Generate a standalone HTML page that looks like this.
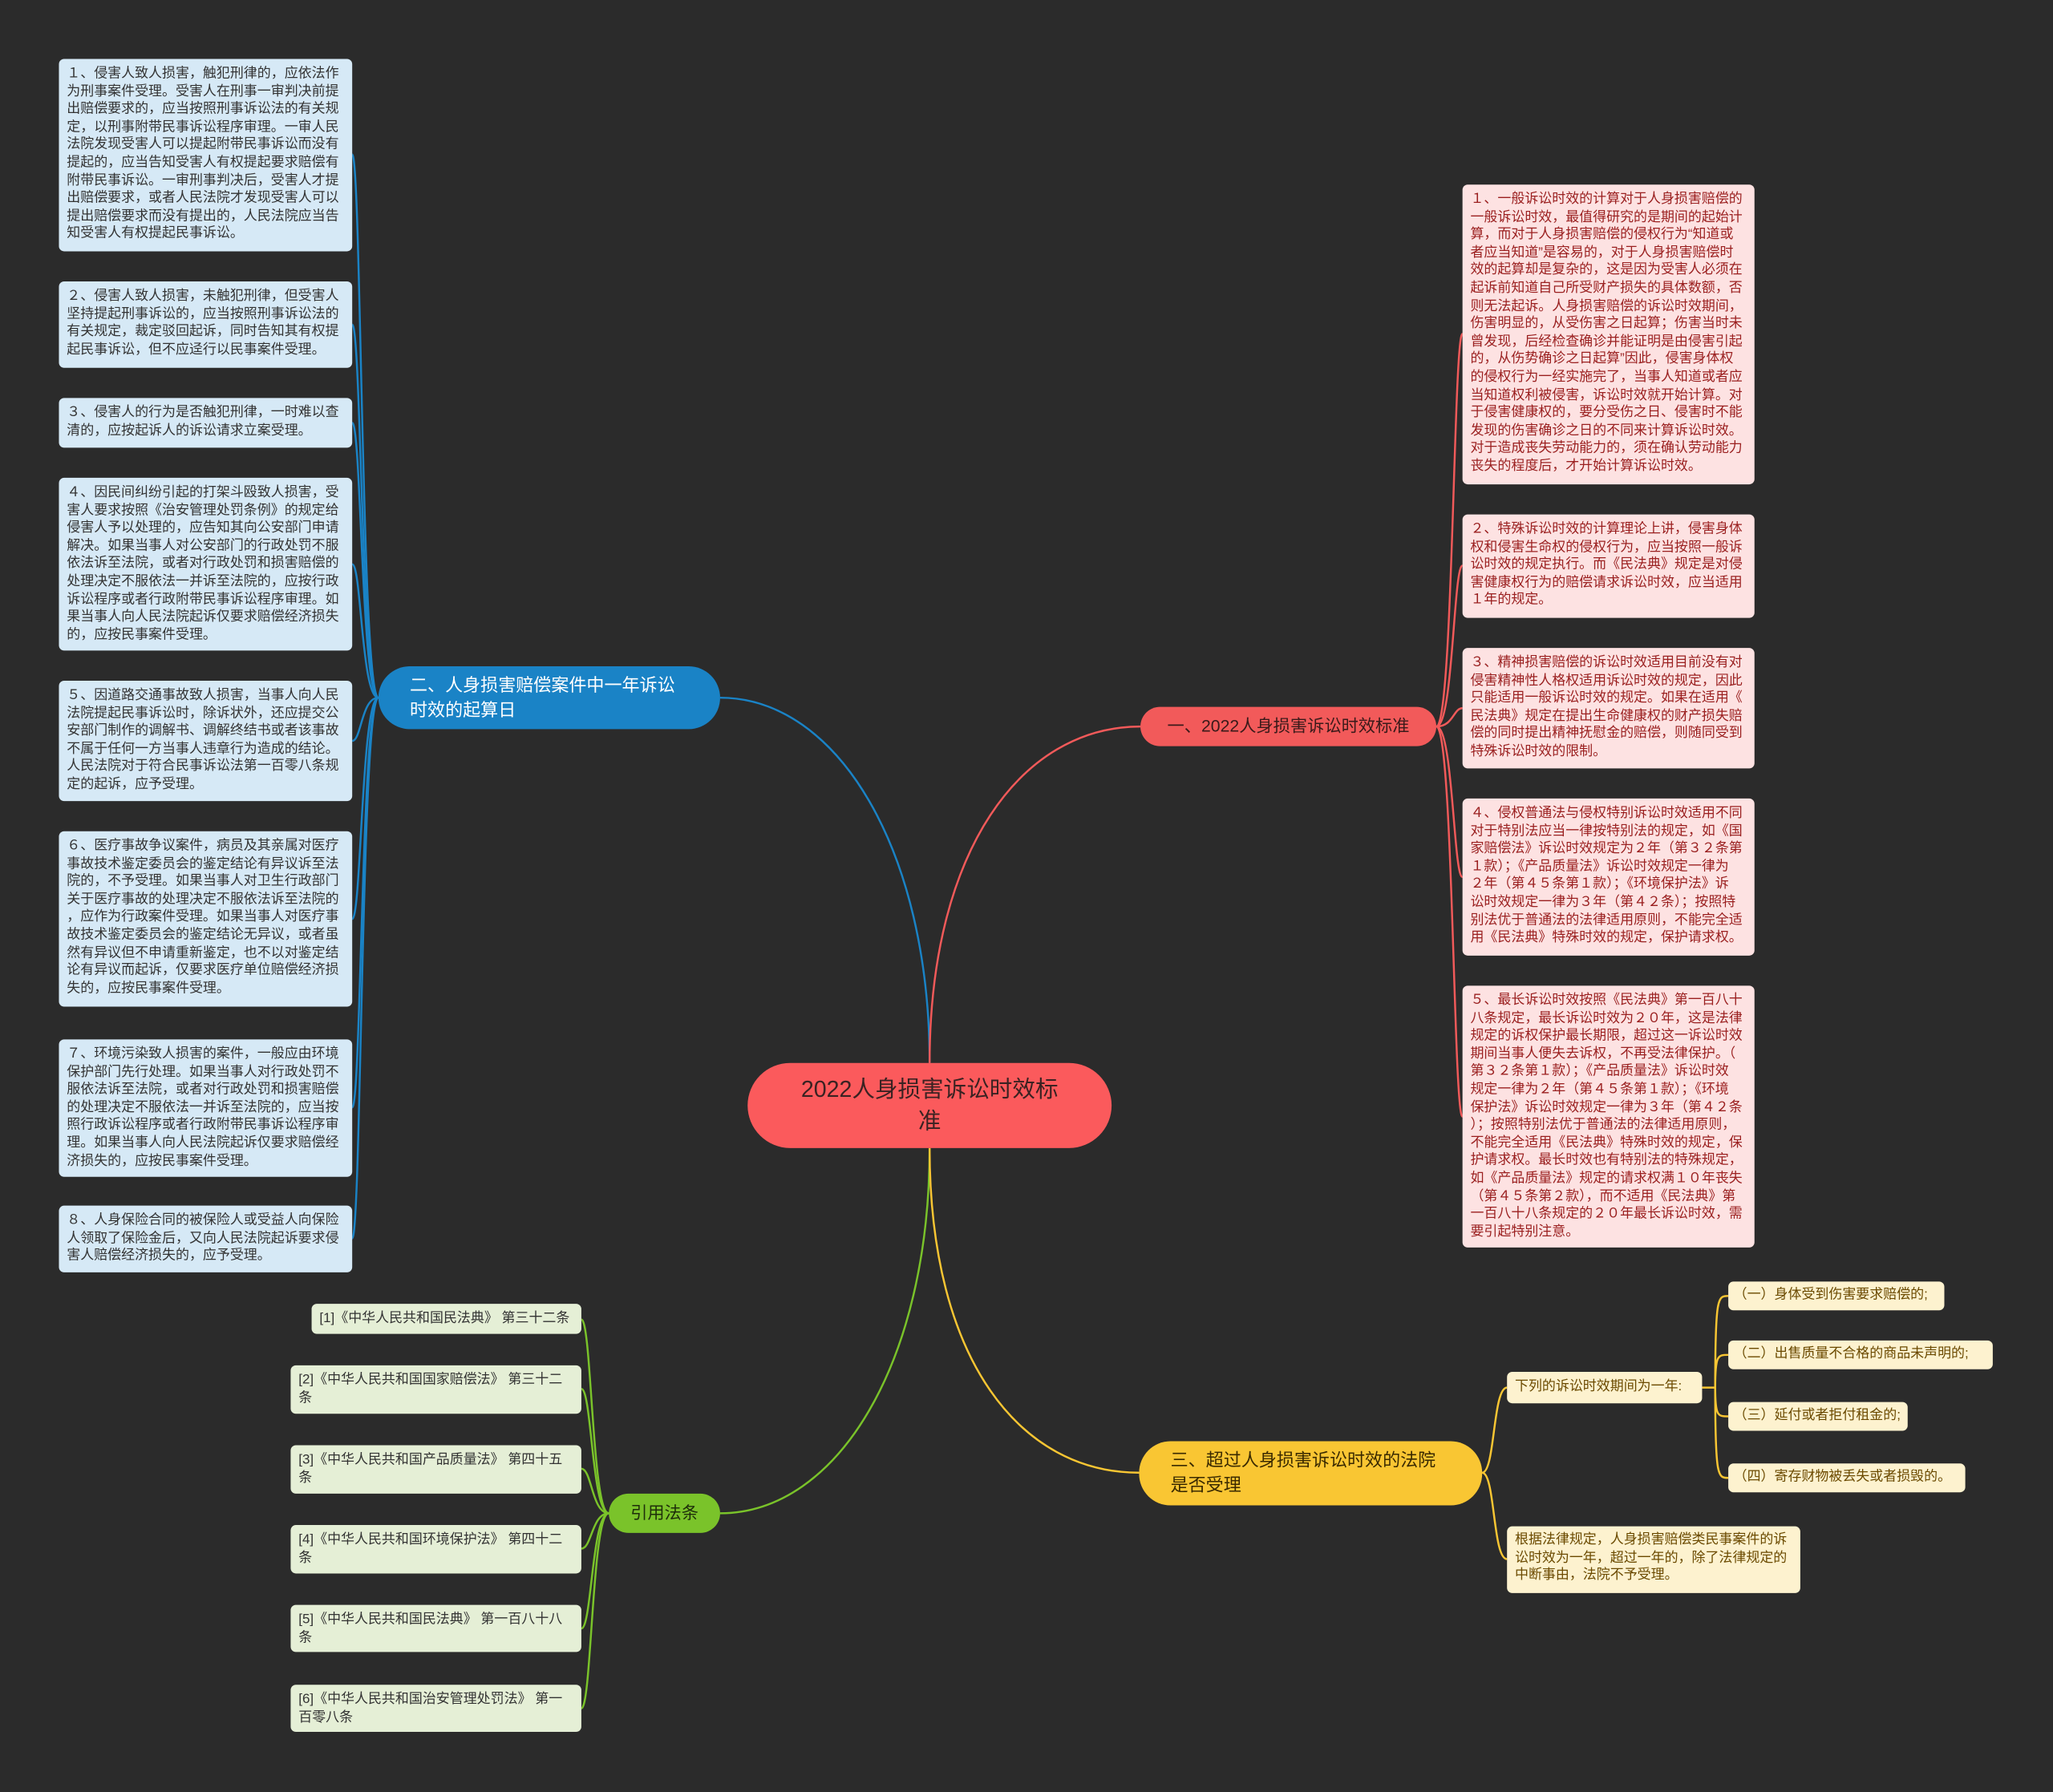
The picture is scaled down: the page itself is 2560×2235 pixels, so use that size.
<!DOCTYPE html>
<html><head><meta charset="utf-8">
<style>
html,body{margin:0;padding:0;background:#2b2b2b;}
body{width:2560px;height:2235px;overflow:hidden;}
#c{position:absolute;left:0;top:0;width:1568px;height:1369px;transform:scale(1.63265);transform-origin:0 0;background:#2b2b2b;font-family:"Liberation Sans","Noto Sans CJK SC",sans-serif;}
.n{position:absolute;box-sizing:border-box;white-space:nowrap;overflow:hidden;}
.lb{background:#d6e9f6;color:#333;border-radius:4px;font-size:10.4px;line-height:13.6px;padding:5px 6px;letter-spacing:0;}
.rb{background:#fde2e2;color:#9a1f1f;border-radius:4px;font-size:10.4px;line-height:13.6px;padding:5px 6px;letter-spacing:0;}
.yb{background:#fdf2cf;color:#6b4a00;border-radius:4px;font-size:10.4px;line-height:13.6px;padding:4px 6px;}
.gb{background:#e5efd6;color:#333;border-radius:4px;font-size:10.4px;line-height:13.6px;padding:5px 6px;}
svg{position:absolute;left:0;top:0;}
</style></head><body><div id="c">
<svg width="1568" height="1369" fill="none" stroke-width="1.5">
<path d="M710 812 C710 650 640 533 550 533" stroke="#1a83c6"/>
<path d="M710 812 C710 650 780 555 871 555" stroke="#f25a5a"/>
<path d="M710 877 C710 1040 640 1156 550 1156" stroke="#7ac32a"/>
<path d="M710 877 C710 1040 780 1125 870 1125" stroke="#f9c633"/>
<g stroke="#1a83c6">
<path d="M289 533 C276 533 276 118 269 118"/>
<path d="M289 533 C276 533 276 248 269 248"/>
<path d="M289 533 C276 533 276 323 269 323"/>
<path d="M289 533 C276 533 276 431 269 431"/>
<path d="M289 533 C276 533 276 566 269 566"/>
<path d="M289 533 C276 533 276 702 269 702"/>
<path d="M289 533 C276 533 276 846 269 846"/>
<path d="M289 533 C276 533 276 946 269 946"/>
</g>
<g stroke="#f25a5a">
<path d="M1097 555 C1110 555 1110 255 1117 255"/>
<path d="M1097 555 C1110 555 1110 432 1117 432"/>
<path d="M1097 555 C1110 555 1110 541 1117 541"/>
<path d="M1097 555 C1110 555 1110 670 1117 670"/>
<path d="M1097 555 C1110 555 1110 853 1117 853"/>
</g>
<g stroke="#f9c633">
<path d="M1132 1125 C1142 1125 1140 1060 1151 1060"/>
<path d="M1132 1125 C1142 1125 1140 1191 1151 1191"/>
<path d="M1300 1060 L1310 1060"/>
<path d="M1310 1060 C1310 990 1312 990 1320 990"/>
<path d="M1310 1060 C1310 1035 1312 1035 1320 1035"/>
<path d="M1310 1060 C1310 1082 1312 1082 1320 1082"/>
<path d="M1310 1060 C1310 1129 1312 1129 1320 1129"/>
</g>
<g stroke="#7ac32a">
<path d="M465 1156 C452 1156 452 1008 444 1008"/>
<path d="M465 1156 C452 1156 452 1061 444 1061"/>
<path d="M465 1156 C452 1156 452 1122 444 1122"/>
<path d="M465 1156 C452 1156 452 1183 444 1183"/>
<path d="M465 1156 C452 1156 452 1244 444 1244"/>
<path d="M465 1156 C452 1156 452 1305 444 1305"/>
</g>
</svg>

<div class="n" style="left:571px;top:812px;width:278px;height:65px;background:#fb5a5c;border-radius:33px;color:#3a2222;font-size:17.5px;line-height:24px;text-align:center;padding-top:8px;">2022人身损害诉讼时效标<br>准</div>
<div class="n" style="left:289px;top:509px;width:261px;height:48px;background:#1a83c6;border-radius:24px;color:#fff;font-size:13.5px;line-height:19px;padding:5px 0 0 24px;">二、人身损害赔偿案件中一年诉讼<br>时效的起算日</div>
<div class="n" style="left:871px;top:540px;width:226px;height:30px;background:#f25a5a;border-radius:15px;color:#3a1a1a;font-size:13px;line-height:30px;text-align:center;">一、2022人身损害诉讼时效标准</div>
<div class="n" style="left:870px;top:1101px;width:262px;height:49px;background:#f9c633;border-radius:24px;color:#3a2a00;font-size:13.5px;line-height:19px;padding:5px 0 0 24px;">三、超过人身损害诉讼时效的法院<br>是否受理</div>
<div class="n" style="left:465px;top:1141px;width:85px;height:30px;background:#7ac32a;border-radius:15px;color:#1e2e0a;font-size:13px;line-height:30px;text-align:center;">引用法条</div>

<div class="n lb" style="left:45px;top:45px;width:224px;height:147px;">１、侵害人致人损害，触犯刑律的，应依法作<br>为刑事案件受理。受害人在刑事一审判决前提<br>出赔偿要求的，应当按照刑事诉讼法的有关规<br>定，以刑事附带民事诉讼程序审理。一审人民<br>法院发现受害人可以提起附带民事诉讼而没有<br>提起的，应当告知受害人有权提起要求赔偿有<br>附带民事诉讼。一审刑事判决后，受害人才提<br>出赔偿要求，或者人民法院才发现受害人可以<br>提出赔偿要求而没有提出的，人民法院应当告<br>知受害人有权提起民事诉讼。</div>
<div class="n lb" style="left:45px;top:215px;width:224px;height:66px;">２、侵害人致人损害，未触犯刑律，但受害人<br>坚持提起刑事诉讼的，应当按照刑事诉讼法的<br>有关规定，裁定驳回起诉，同时告知其有权提<br>起民事诉讼，但不应迳行以民事案件受理。</div>
<div class="n lb" style="left:45px;top:304px;width:224px;height:38px;">３、侵害人的行为是否触犯刑律，一时难以查<br>清的，应按起诉人的诉讼请求立案受理。</div>
<div class="n lb" style="left:45px;top:365px;width:224px;height:132px;">４、因民间纠纷引起的打架斗殴致人损害，受<br>害人要求按照《治安管理处罚条例》的规定给<br>侵害人予以处理的，应告知其向公安部门申请<br>解决。如果当事人对公安部门的行政处罚不服<br>依法诉至法院，或者对行政处罚和损害赔偿的<br>处理决定不服依法一并诉至法院的，应按行政<br>诉讼程序或者行政附带民事诉讼程序审理。如<br>果当事人向人民法院起诉仅要求赔偿经济损失<br>的，应按民事案件受理。</div>
<div class="n lb" style="left:45px;top:520px;width:224px;height:92px;">５、因道路交通事故致人损害，当事人向人民<br>法院提起民事诉讼时，除诉状外，还应提交公<br>安部门制作的调解书、调解终结书或者该事故<br>不属于任何一方当事人违章行为造成的结论。<br>人民法院对于符合民事诉讼法第一百零八条规<br>定的起诉，应予受理。</div>
<div class="n lb" style="left:45px;top:635px;width:224px;height:134px;">６、医疗事故争议案件，病员及其亲属对医疗<br>事故技术鉴定委员会的鉴定结论有异议诉至法<br>院的，不予受理。如果当事人对卫生行政部门<br>关于医疗事故的处理决定不服依法诉至法院的<br>，应作为行政案件受理。如果当事人对医疗事<br>故技术鉴定委员会的鉴定结论无异议，或者虽<br>然有异议但不申请重新鉴定，也不以对鉴定结<br>论有异议而起诉，仅要求医疗单位赔偿经济损<br>失的，应按民事案件受理。</div>
<div class="n lb" style="left:45px;top:794px;width:224px;height:105px;">７、环境污染致人损害的案件，一般应由环境<br>保护部门先行处理。如果当事人对行政处罚不<br>服依法诉至法院，或者对行政处罚和损害赔偿<br>的处理决定不服依法一并诉至法院的，应当按<br>照行政诉讼程序或者行政附带民事诉讼程序审<br>理。如果当事人向人民法院起诉仅要求赔偿经<br>济损失的，应按民事案件受理。</div>
<div class="n lb" style="left:45px;top:921px;width:224px;height:51px;">８、人身保险合同的被保险人或受益人向保险<br>人领取了保险金后，又向人民法院起诉要求侵<br>害人赔偿经济损失的，应予受理。</div>

<div class="n rb" style="left:1117px;top:141px;width:223px;height:229px;">１、一般诉讼时效的计算对于人身损害赔偿的<br>一般诉讼时效，最值得研究的是期间的起始计<br>算，而对于人身损害赔偿的侵权行为“知道或<br>者应当知道”是容易的，对于人身损害赔偿时<br>效的起算却是复杂的，这是因为受害人必须在<br>起诉前知道自己所受财产损失的具体数额，否<br>则无法起诉。人身损害赔偿的诉讼时效期间，<br>伤害明显的，从受伤害之日起算；伤害当时未<br>曾发现，后经检查确诊并能证明是由侵害引起<br>的，从伤势确诊之日起算”因此，侵害身体权<br>的侵权行为一经实施完了，当事人知道或者应<br>当知道权利被侵害，诉讼时效就开始计算。对<br>于侵害健康权的，要分受伤之日、侵害时不能<br>发现的伤害确诊之日的不同来计算诉讼时效。<br>对于造成丧失劳动能力的，须在确认劳动能力<br>丧失的程度后，才开始计算诉讼时效。</div>
<div class="n rb" style="left:1117px;top:393px;width:223px;height:79px;">２、特殊诉讼时效的计算理论上讲，侵害身体<br>权和侵害生命权的侵权行为，应当按照一般诉<br>讼时效的规定执行。而《民法典》规定是对侵<br>害健康权行为的赔偿请求诉讼时效，应当适用<br>１年的规定。</div>
<div class="n rb" style="left:1117px;top:495px;width:223px;height:92px;">３、精神损害赔偿的诉讼时效适用目前没有对<br>侵害精神性人格权适用诉讼时效的规定，因此<br>只能适用一般诉讼时效的规定。如果在适用《<br>民法典》规定在提出生命健康权的财产损失赔<br>偿的同时提出精神抚慰金的赔偿，则随同受到<br>特殊诉讼时效的限制。</div>
<div class="n rb" style="left:1117px;top:610px;width:223px;height:120px;">４、侵权普通法与侵权特别诉讼时效适用不同<br>对于特别法应当一律按特别法的规定，如《国<br>家赔偿法》诉讼时效规定为２年（第３２条第<br>１款）；《产品质量法》诉讼时效规定一律为<br>２年（第４５条第１款）；《环境保护法》诉<br>讼时效规定一律为３年（第４２条）；按照特<br>别法优于普通法的法律适用原则，不能完全适<br>用《民法典》特殊时效的规定，保护请求权。</div>
<div class="n rb" style="left:1117px;top:753px;width:223px;height:200px;">５、最长诉讼时效按照《民法典》第一百八十<br>八条规定，最长诉讼时效为２０年，这是法律<br>规定的诉权保护最长期限，超过这一诉讼时效<br>期间当事人便失去诉权，不再受法律保护。（<br>第３２条第１款）；《产品质量法》诉讼时效<br>规定一律为２年（第４５条第１款）；《环境<br>保护法》诉讼时效规定一律为３年（第４２条<br>）；按照特别法优于普通法的法律适用原则，<br>不能完全适用《民法典》特殊时效的规定，保<br>护请求权。最长时效也有特别法的特殊规定，<br>如《产品质量法》规定的请求权满１０年丧失<br>（第４５条第２款），而不适用《民法典》第<br>一百八十八条规定的２０年最长诉讼时效，需<br>要引起特别注意。</div>

<div class="n yb" style="left:1151px;top:1048px;width:149px;height:24px;line-height:16px;">下列的诉讼时效期间为一年:</div>
<div class="n yb" style="left:1320px;top:979px;width:165px;height:22px;line-height:14px;padding-left:4px;">（一）身体受到伤害要求赔偿的;</div>
<div class="n yb" style="left:1320px;top:1024px;width:202px;height:22px;line-height:14px;padding-left:4px;">（二）出售质量不合格的商品未声明的;</div>
<div class="n yb" style="left:1320px;top:1071px;width:137px;height:22px;line-height:14px;padding-left:4px;">（三）延付或者拒付租金的;</div>
<div class="n yb" style="left:1320px;top:1118px;width:181px;height:22px;line-height:14px;padding-left:4px;">（四）寄存财物被丢失或者损毁的。</div>
<div class="n yb" style="left:1151px;top:1166px;width:224px;height:51px;">根据法律规定，人身损害赔偿类民事案件的诉<br>讼时效为一年，超过一年的，除了法律规定的<br>中断事由，法院不予受理。</div>

<div class="n gb" style="left:238px;top:996px;width:206px;height:23px;line-height:13px;">[1]《中华人民共和国民法典》 第三十二条</div>
<div class="n gb" style="left:222px;top:1043px;width:222px;height:37px;">[2]《中华人民共和国国家赔偿法》 第三十二<br>条</div>
<div class="n gb" style="left:222px;top:1104px;width:222px;height:37px;">[3]《中华人民共和国产品质量法》 第四十五<br>条</div>
<div class="n gb" style="left:222px;top:1165px;width:222px;height:37px;">[4]《中华人民共和国环境保护法》 第四十二<br>条</div>
<div class="n gb" style="left:222px;top:1226px;width:222px;height:36px;">[5]《中华人民共和国民法典》 第一百八十八<br>条</div>
<div class="n gb" style="left:222px;top:1287px;width:222px;height:36px;">[6]《中华人民共和国治安管理处罚法》 第一<br>百零八条</div>
</div></body></html>
